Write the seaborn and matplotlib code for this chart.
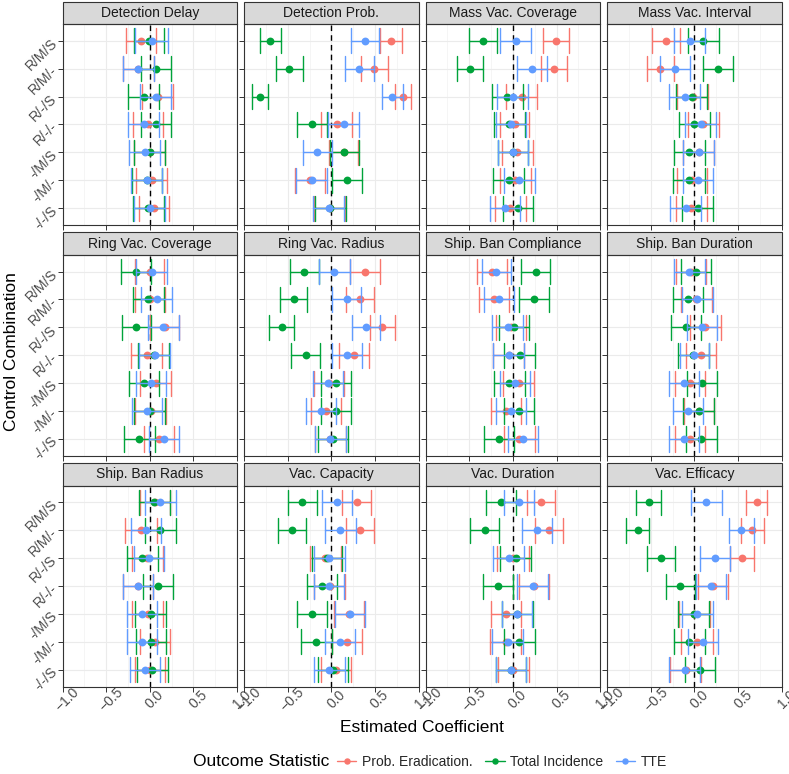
# Coefficient plot: effect of each control combination, faceted by parameter
import pandas as pd
import matplotlib
matplotlib.use("Agg")
import matplotlib.pyplot as plt
from matplotlib.lines import Line2D
from matplotlib.patches import Rectangle
import seaborn as sns

panels = ["Detection Delay", "Detection Prob.", "Mass Vac. Coverage", "Mass Vac. Interval",
          "Ring Vac. Coverage", "Ring Vac. Radius", "Ship. Ban Compliance", "Ship. Ban Duration",
          "Ship. Ban Radius", "Vac. Capacity", "Vac. Duration", "Vac. Efficacy"]
combos = ["R/M/S", "R/M/-", "R/-/S", "R/-/-", "-/M/S", "-/M/-", "-/-/S"]
outcomes = ["Prob. Eradication.", "Total Incidence", "TTE"]
colors = ["#F8766D", "#00A33A", "#619CFF"]

# estimates (rows = panels, cols = combos) and half-widths of the intervals
erad_est = [
    [-0.10, -0.13, 0.09, -0.02, 0.00, 0.02, 0.05],
    [0.68, 0.49, 0.82, 0.06, 0.14, -0.245, -0.02],
    [0.495, 0.47, 0.10, 0.02, 0.05, 0.03, -0.03],
    [-0.33, -0.39, -0.02, 0.10, 0.05, -0.03, -0.035],
    [0.00, 0.00, 0.17, -0.035, 0.07, 0.01, 0.11],
    [0.385, 0.33, 0.585, 0.26, -0.03, -0.06, -0.01],
    [-0.24, -0.215, -0.02, -0.05, 0.065, -0.08, 0.075],
    [-0.04, 0.02, 0.125, 0.07, -0.055, 0.05, -0.055],
    [0.06, -0.10, -0.03, -0.135, -0.025, 0.06, 0.00],
    [0.29, 0.33, -0.07, -0.02, 0.20, 0.18, 0.05],
    [0.325, 0.41, 0.00, 0.245, -0.08, -0.08, 0.005],
    [0.715, 0.665, 0.545, 0.21, 0.00, 0.03, -0.10],
]
erad_hw = [
    [0.175, 0.177, 0.174, 0.174, 0.177, 0.177, 0.175],
    [0.125, 0.155, 0.09, 0.175, 0.17, 0.17, 0.175],
    [0.15, 0.15, 0.18, 0.17, 0.18, 0.178, 0.178],
    [0.16, 0.158, 0.178, 0.178, 0.176, 0.17, 0.178],
    [0.165, 0.175, 0.17, 0.175, 0.177, 0.177, 0.172],
    [0.168, 0.164, 0.14, 0.17, 0.17, 0.172, 0.175],
    [0.168, 0.17, 0.172, 0.178, 0.178, 0.172, 0.174],
    [0.174, 0.178, 0.176, 0.172, 0.172, 0.172, 0.172],
    [0.172, 0.18, 0.177, 0.17, 0.177, 0.177, 0.175],
    [0.168, 0.164, 0.18, 0.18, 0.172, 0.17, 0.174],
    [0.163, 0.16, 0.18, 0.174, 0.176, 0.178, 0.178],
    [0.122, 0.13, 0.137, 0.17, 0.175, 0.18, 0.178],
]
inc_est = [
    [-0.01, 0.07, -0.07, 0.07, 0.00, -0.03, -0.015],
    [-0.70, -0.48, -0.82, -0.22, 0.15, 0.18, -0.01],
    [-0.34, -0.49, -0.065, -0.04, 0.00, -0.05, 0.06],
    [0.10, 0.27, -0.03, 0.00, -0.06, -0.06, 0.04],
    [-0.16, -0.015, -0.155, 0.045, -0.07, 0.00, -0.12],
    [-0.31, -0.43, -0.57, -0.295, 0.055, 0.055, 0.02],
    [0.26, 0.245, 0.015, 0.08, -0.04, 0.065, -0.155],
    [0.02, -0.075, -0.095, -0.015, 0.085, 0.05, 0.08],
    [0.05, 0.12, -0.085, 0.09, 0.01, 0.015, 0.03],
    [-0.335, -0.45, -0.05, -0.105, -0.22, -0.17, 0.02],
    [-0.135, -0.325, 0.035, -0.175, 0.05, 0.075, -0.02],
    [-0.525, -0.65, -0.38, -0.16, -0.01, -0.06, 0.065],
]
inc_hw = [
    [0.175, 0.17, 0.177, 0.174, 0.177, 0.175, 0.177],
    [0.12, 0.15, 0.09, 0.17, 0.17, 0.175, 0.175],
    [0.163, 0.153, 0.178, 0.178, 0.174, 0.176, 0.174],
    [0.176, 0.168, 0.178, 0.176, 0.178, 0.18, 0.178],
    [0.17, 0.18, 0.165, 0.175, 0.17, 0.18, 0.175],
    [0.165, 0.157, 0.145, 0.168, 0.172, 0.172, 0.172],
    [0.166, 0.172, 0.174, 0.176, 0.178, 0.172, 0.172],
    [0.174, 0.172, 0.174, 0.178, 0.172, 0.176, 0.174],
    [0.177, 0.175, 0.175, 0.172, 0.175, 0.175, 0.18],
    [0.166, 0.157, 0.175, 0.17, 0.172, 0.172, 0.175],
    [0.172, 0.164, 0.178, 0.172, 0.178, 0.176, 0.175],
    [0.145, 0.134, 0.16, 0.168, 0.175, 0.176, 0.174],
]
tte_est = [
    [0.02, -0.13, 0.07, -0.07, -0.06, -0.035, 0.00],
    [0.39, 0.32, 0.70, 0.14, -0.16, -0.225, -0.03],
    [0.035, 0.22, 0.00, -0.025, 0.00, 0.075, -0.09],
    [-0.055, -0.22, -0.11, 0.07, 0.05, 0.04, -0.10],
    [0.02, 0.08, 0.155, 0.055, 0.015, -0.03, 0.165],
    [0.035, 0.175, 0.40, 0.18, -0.035, -0.12, -0.01],
    [-0.19, -0.16, -0.06, -0.05, 0.025, -0.025, 0.12],
    [-0.06, 0.03, 0.085, 0.00, -0.12, -0.075, -0.12],
    [0.12, -0.045, -0.01, -0.135, -0.09, -0.09, -0.055],
    [0.06, 0.105, -0.025, -0.025, 0.215, 0.10, -0.025],
    [0.07, 0.28, -0.05, 0.225, 0.045, -0.06, -0.02],
    [0.135, 0.535, 0.235, 0.195, 0.035, 0.095, -0.11],
]
tte_hw = [
    [0.185, 0.175, 0.177, 0.174, 0.177, 0.177, 0.177],
    [0.16, 0.165, 0.12, 0.175, 0.165, 0.175, 0.175],
    [0.178, 0.172, 0.178, 0.174, 0.174, 0.176, 0.176],
    [0.178, 0.17, 0.176, 0.176, 0.176, 0.176, 0.178],
    [0.175, 0.175, 0.175, 0.18, 0.17, 0.175, 0.172],
    [0.178, 0.165, 0.16, 0.168, 0.172, 0.172, 0.175],
    [0.166, 0.174, 0.18, 0.18, 0.176, 0.174, 0.172],
    [0.178, 0.178, 0.172, 0.166, 0.176, 0.172, 0.176],
    [0.175, 0.173, 0.17, 0.17, 0.175, 0.175, 0.175],
    [0.172, 0.172, 0.176, 0.172, 0.172, 0.176, 0.176],
    [0.176, 0.17, 0.18, 0.172, 0.172, 0.176, 0.172],
    [0.176, 0.143, 0.176, 0.172, 0.174, 0.17, 0.178],
]

# long table: lower, estimate, upper per cell -> median + full range gives the interval
rows = []
for outcome, est_tab, hw_tab in zip(outcomes, [erad_est, inc_est, tte_est], [erad_hw, inc_hw, tte_hw]):
    for p, panel in enumerate(panels):
        for c, combo in enumerate(combos):
            e, h = est_tab[p][c], hw_tab[p][c]
            for v in (e - h, e, e + h):
                rows.append({"panel": panel, "combo": combo, "outcome": outcome, "value": v})
df = pd.DataFrame(rows)

sns.set_theme(style="white")
plt.rcParams["font.family"] = ["Liberation Sans", "DejaVu Sans"]

fig, axes = plt.subplots(3, 4, figsize=(7.89, 7.74), dpi=100, sharex=True, sharey=True)
fig.subplots_adjust(left=62.5 / 789, right=781.7 / 789, top=1 - 24 / 774,
                    bottom=1 - 686.5 / 774, wspace=0.04, hspace=0.149)

for ax, panel in zip(axes.flat, panels):
    sub = df[df["panel"] == panel]
    sns.pointplot(data=sub, x="value", y="combo", hue="outcome", order=combos,
                  hue_order=outcomes, palette=colors, estimator="median",
                  errorbar=("pi", 100), capsize=0.9, dodge=False, linestyle="none",
                  marker="o", markersize=3.6, err_kws={"linewidth": 1.0},
                  legend=False, ax=ax)
    ax.axvline(0, color="black", linestyle="--", linewidth=1.0, dashes=(4, 3), zorder=1.5)
    ax.set_xlim(-1, 1)
    ax.set_ylim(6.6, -0.6)
    ax.set_xticks([-1.0, -0.5, 0.0, 0.5, 1.0])
    ax.set_xticks([-0.75, -0.25, 0.25, 0.75], minor=True)
    ax.grid(True, which="major", color="#EBEBEB", linewidth=0.8)
    ax.grid(True, which="minor", axis="x", color="#F2F2F2", linewidth=0.5)
    ax.set_axisbelow(True)
    ax.set_xlabel("")
    ax.set_ylabel("")
    for s in ax.spines.values():
        s.set_color("#333333")
        s.set_linewidth(0.8)
    ax.tick_params(axis="both", which="major", length=3.5, width=0.7, color="#333333",
                   labelsize=10, labelcolor="#4D4D4D", pad=2,
                   bottom=True, left=True)
    ax.tick_params(axis="x", which="minor", length=0)
    # facet strip
    sh = 22.5 / 201
    ax.add_patch(Rectangle((0, 1), 1, sh, transform=ax.transAxes, clip_on=False,
                           facecolor="#D9D9D9", edgecolor="#333333", linewidth=0.8))
    ax.text(0.5, 1 + sh / 2, panel, transform=ax.transAxes, ha="center", va="center",
            fontsize=10, color="#1A1A1A")

for ax in axes[-1]:
    for lab in ax.get_xticklabels():
        lab.set_rotation(45)
        lab.set_rotation_mode("anchor")
        lab.set_ha("center")
        lab.set_va("top")
for ax in axes[:, 0]:
    for lab in ax.get_yticklabels():
        lab.set_rotation(45)
        lab.set_rotation_mode("anchor")
        lab.set_ha("right")
        lab.set_va("center")

fig.text(422 / 789, 1 - 727 / 774, "Estimated Coefficient", ha="center", va="center",
         fontsize=12.5, color="black")
fig.text(12 / 789, 1 - 352 / 774, "Control Combination", ha="center", va="center",
         rotation=90, fontsize=12.5, color="black")

handles = [Line2D([], [], color=c, marker="o", markersize=3.6, linewidth=1.0) for c in colors]
fig.text(193 / 789, 1 - 762 / 774, "Outcome Statistic", ha="left", va="center",
         fontsize=12.5, color="black")
fig.legend(handles, outcomes, ncol=3, loc="center left",
           bbox_to_anchor=(330 / 789, 1 - 762 / 774), frameon=False, fontsize=10,
           handlelength=1.4, handletextpad=0.4, columnspacing=0.9, borderpad=0)

fig.savefig("out.png", dpi=100)
